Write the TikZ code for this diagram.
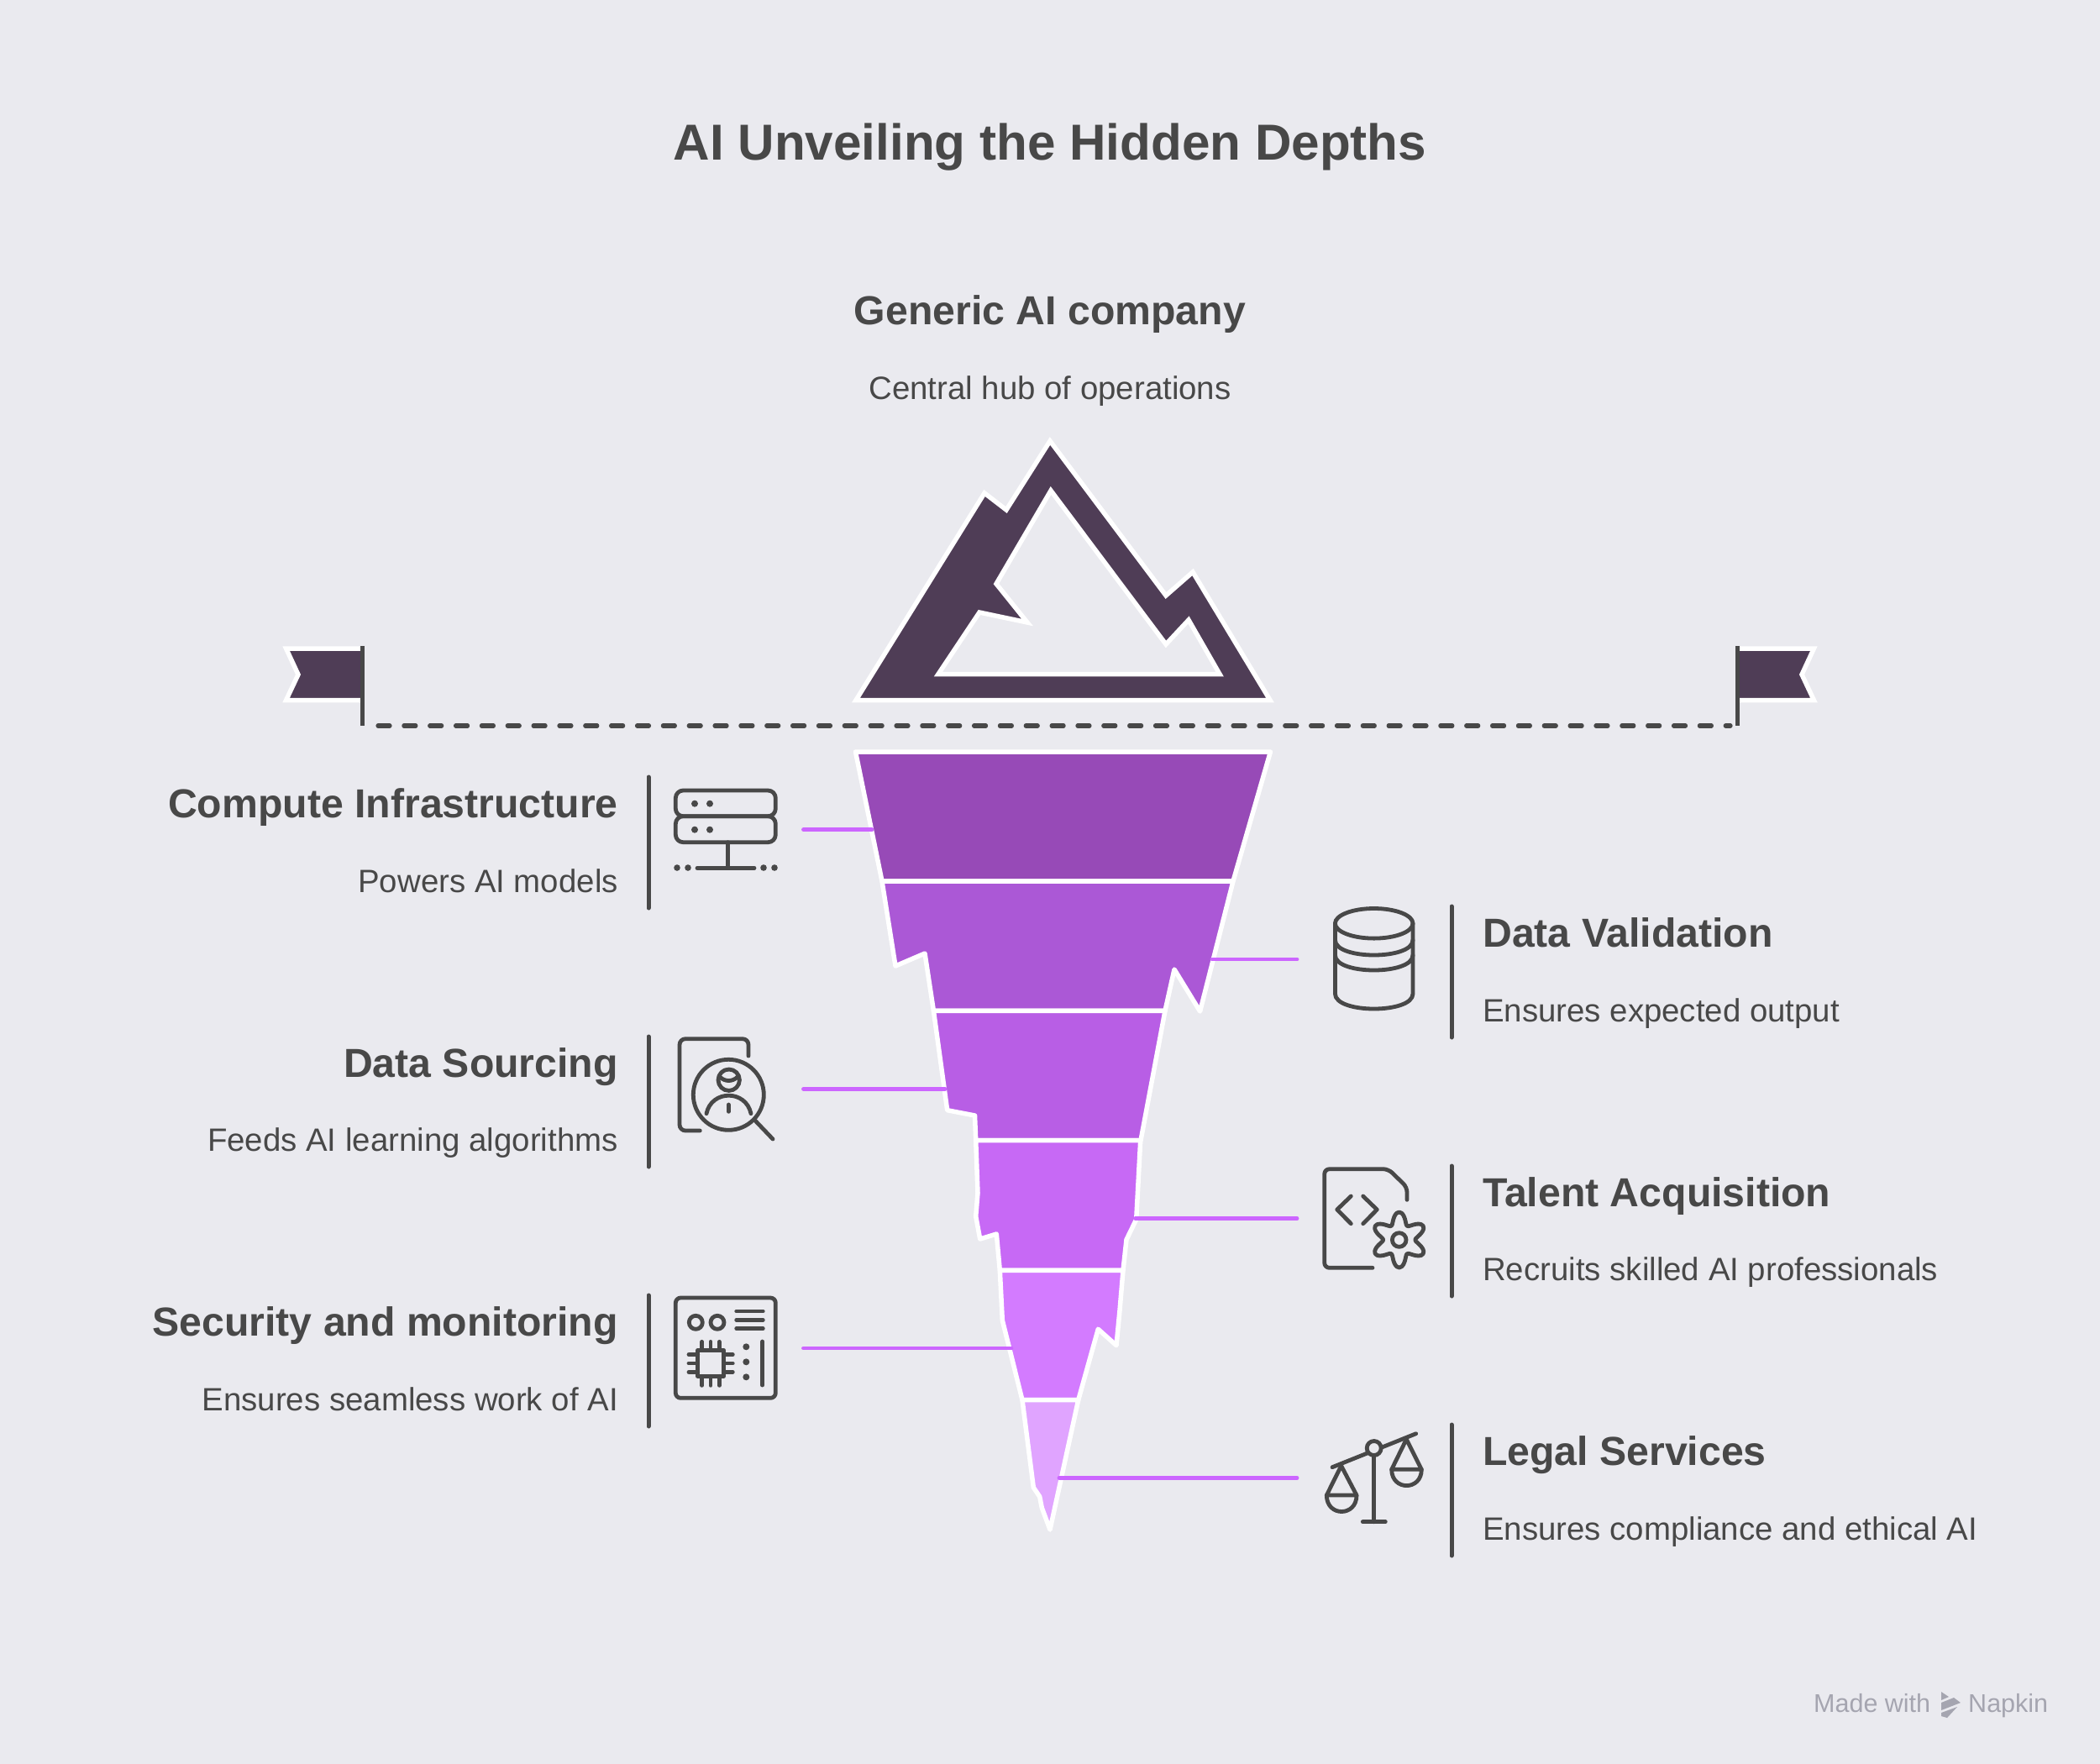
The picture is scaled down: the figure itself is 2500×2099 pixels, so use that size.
\documentclass[tikz,border=0pt]{standalone}
\usepackage{fontspec}
\setmainfont{Liberation Sans}
\usepackage{tikz}
\usetikzlibrary{positioning}

\definecolor{pagebg}{HTML}{EAEAEF}
\definecolor{inkgrey}{HTML}{484848}
\definecolor{bergdark}{HTML}{4F3D56}
\definecolor{bandA}{HTML}{974AB7}
\definecolor{bandB}{HTML}{AB58D6}
\definecolor{bandC}{HTML}{B85EE5}
\definecolor{bandD}{HTML}{C769F5}
\definecolor{bandE}{HTML}{D37BFF}
\definecolor{bandF}{HTML}{E0A4FF}
\definecolor{linkpurple}{HTML}{CC66FF}
\definecolor{markgrey}{HTML}{A5A5B0}

\tikzset{
  headlabel/.style={font=\fontsize{48.2}{48.2}\selectfont\bfseries, text=inkgrey, inner sep=0pt},
  sublabel/.style={font=\fontsize{38.4}{38.4}\selectfont, text=inkgrey, inner sep=0pt},
  band/.style={draw=white, line width=5.5pt, line join=round},
  link/.style={draw=linkpurple, line width=4.8pt, line cap=round},
  sidebar/.style={draw=inkgrey, line width=5pt, line cap=round},
  icon/.style={draw=inkgrey, line width=4.8pt, line cap=round, line join=round},
  icondot/.style={fill=inkgrey}
}

\begin{document}
\begin{tikzpicture}[x=1pt, y=-1pt]
  \useasboundingbox (0,0) rectangle (2500,2099);
  \fill[pagebg] (-5,-5) rectangle (2505,2104);

  % Draw the title and the top labels
  \node[font=\fontsize{60.2}{60.2}\selectfont\bfseries, text=inkgrey, inner sep=0pt, anchor=base] (title) at (1250,190) {AI Unveiling the Hidden Depths};
  \node[headlabel, anchor=base] (topHead) at (1250,386) {Generic AI company};
  \node[sublabel, anchor=base] (topSub) at (1250,475) {Central hub of operations};

  % Draw the mountain
  \draw[band, line join=miter, fill=bergdark, even odd rule]
    (1250,525) -- (1388,709) -- (1420,681) -- (1512,833.5) -- (1019,833.5) -- (1172,587) -- (1198,607) -- cycle
    (1251,584) -- (1186,695) -- (1223,741) -- (1166,729) -- (1117,802.5) -- (1452,802.5) -- (1415,738) -- (1388,767) -- cycle;

  % Draw the flags and the water line
  \draw[band, line join=miter, fill=bergdark] (431,772) -- (340.6,772) -- (355,803) -- (340.6,833.5) -- (431,833.5);
  \draw[band, line join=miter, fill=bergdark] (2068,772) -- (2159.4,772) -- (2145,803) -- (2159.4,833.5) -- (2068,833.5);
  \coordinate (leftPole) at (431,864);
  \coordinate (rightPole) at (2068,864);
  \draw[draw=inkgrey, line width=5pt] (431,769) -- (leftPole);
  \draw[draw=inkgrey, line width=5pt] (2068,769) -- (rightPole);
  \draw[draw=inkgrey, line width=5.2pt, line cap=round, dash pattern=on 14pt off 16.85pt] (450,864) -- (2060,864);

  % Draw the bands of the iceberg
  \draw[band, fill=bandA] (1018.5,895) -- (1512.4,895) -- (1468,1049) -- (1050,1049) -- cycle;
  \draw[band, fill=bandB] (1050,1049) -- (1468,1049) -- (1428.6,1204) -- (1398,1154) -- (1387,1203.3) -- (1111.4,1203.3) -- (1101,1135) -- (1066,1150) -- cycle;
  \draw[band, fill=bandC] (1111.4,1203.3) -- (1387,1203.3) -- (1358,1357.7) -- (1161.7,1357.7) -- (1160.5,1328) -- (1127.7,1321.7) -- cycle;
  \draw[band, fill=bandD] (1161.7,1357.7) -- (1357.7,1357.7) -- (1352.7,1451.7) -- (1341,1475.7) -- (1337,1512.3) -- (1190.3,1512.3) -- (1186.3,1469) -- (1166.7,1475) -- (1161.7,1448) -- (1164,1420) -- cycle;
  \draw[band, fill=bandE] (1190.3,1512.3) -- (1337,1512.3) -- (1333,1560) -- (1329,1601.7) -- (1307.3,1582.3) -- (1283.7,1666.7) -- (1217,1666.7) -- (1193.3,1571.7) -- cycle;
  \draw[band, fill=bandF] (1217,1666.7) -- (1283.7,1666.7) -- (1250,1821) -- (1240.3,1795) -- (1237.7,1781.7) -- (1230.3,1770.7) -- cycle;

  % Define the ends of the links
  \coordinate (infraEnd) at (956.5,987.7);
  \coordinate (infraBand) at (1038,987.7);
  \coordinate (validEnd) at (1544,1142);
  \coordinate (validBand) at (1443,1142);
  \coordinate (sourceEnd) at (956.5,1296.3);
  \coordinate (sourceBand) at (1125,1296.3);
  \coordinate (talentEnd) at (1544,1450.7);
  \coordinate (talentBand) at (1351.7,1450.7);
  \coordinate (securEnd) at (956.5,1605);
  \coordinate (securBand) at (1204,1605);
  \coordinate (legalEnd) at (1544,1759.3);
  \coordinate (legalBand) at (1261,1759.3);

  % Draw the links
  \draw[link] (infraEnd) -- (infraBand);
  \draw[link] (validEnd) -- (validBand);
  \draw[link] (sourceEnd) -- (sourceBand);
  \draw[link] (talentEnd) -- (talentBand);
  \draw[link] (securEnd) -- (securBand);
  \draw[link] (legalEnd) -- (legalBand);

  % Draw the bars next to the labels
  \draw[sidebar] (772,925) -- (772,1081);
  \draw[sidebar] (772,1234) -- (772,1389);
  \draw[sidebar] (772,1542) -- (772,1698);
  \draw[sidebar] (1728,1079) -- (1728,1235);
  \draw[sidebar] (1728,1388) -- (1728,1543);
  \draw[sidebar] (1728,1696) -- (1728,1852);

  % Draw the left labels
  \node[headlabel, anchor=base east] (infraHead) at (736,973) {Compute Infrastructure};
  \node[sublabel, anchor=base east] (infraSub) at (736,1062) {Powers AI models};
  \node[headlabel, anchor=base east] (sourceHead) at (736,1282) {Data Sourcing};
  \node[sublabel, anchor=base east] (sourceSub) at (736,1370.5) {Feeds AI learning algorithms};
  \node[headlabel, anchor=base east] (securHead) at (736,1590) {Security and monitoring};
  \node[sublabel, anchor=base east] (securSub) at (736,1679) {Ensures seamless work of AI};

  % Draw the right labels
  \node[headlabel, anchor=base west] (validHead) at (1765,1127) {Data Validation};
  \node[sublabel, anchor=base west] (validSub) at (1765,1216) {Ensures expected output};
  \node[headlabel, anchor=base west] (talentHead) at (1765,1436) {Talent Acquisition};
  \node[sublabel, anchor=base west] (talentSub) at (1765,1524.5) {Recruits skilled AI professionals};
  \node[headlabel, anchor=base west] (legalHead) at (1765,1744) {Legal Services};
  \node[sublabel, anchor=base west] (legalSub) at (1765,1833) {Ensures compliance and ethical AI};

  % Draw the server icon
  \draw[icon, rounded corners=9pt] (804.3,941) rectangle (923.3,971.7);
  \draw[icon, rounded corners=9pt] (804.3,971.7) rectangle (923.3,1002.7);
  \foreach \dotx in {827,845} {
    \fill[icondot] (\dotx,956.7) circle (4);
    \fill[icondot] (\dotx,987.7) circle (4);
  }
  \draw[icon] (866.7,1002.7) -- (866.7,1033.3);
  \draw[icon] (830,1033.3) -- (898,1033.3);
  \foreach \dotx in {806,819,909,922} {
    \fill[icondot] (\dotx,1033) circle (3.8);
  }

  % Draw the search icon
  \draw[icon, rounded corners=7pt] (833.3,1346) -- (809,1346) -- (809,1236.7) -- (891,1236.7) -- (891,1257);
  \draw[icon] (867.3,1303.3) circle (42);
  \draw[icon] (898.3,1333.3) -- (920,1356);
  \draw[icon] (867.7,1285.7) circle (12.7);
  \draw[icon] (857,1282) .. controls (863,1288) and (872,1288) .. (878,1282);
  \draw[icon] (841,1325.7) .. controls (847,1297) and (888,1297) .. (894,1325.7);
  \draw[icon] (867.3,1315) -- (867.3,1323.3);

  % Draw the board icon
  \draw[icon, rounded corners=6pt] (804.3,1545) rectangle (923.3,1664.3);
  \draw[icon] (828.3,1574.3) circle (8);
  \draw[icon] (854,1574.3) circle (8);
  \foreach \liney in {1561,1571.3,1581.7} {
    \draw[icon] (876.7,\liney) -- (908.3,\liney);
  }
  \draw[icon] (830.7,1607.3) rectangle (861.7,1638.3);
  \foreach \pinx in {835.7,846,856.3} {
    \draw[icon] (\pinx,1597.3) -- (\pinx,1607.3);
    \draw[icon] (\pinx,1638.3) -- (\pinx,1649.3);
  }
  \foreach \piny in {1612.7,1623,1633.3} {
    \draw[icon] (820,\piny) -- (830.7,\piny);
    \draw[icon] (861.7,\piny) -- (872.3,\piny);
  }
  \foreach \doty in {1603.3,1621.3,1639.3} {
    \fill[icondot] (888.3,\doty) circle (4);
  }
  \draw[icon] (907.7,1597) -- (907.7,1649);

  % Draw the database icon
  \draw[icon] (1635.7,1099.3) ellipse [x radius=46.3, y radius=17.8];
  \draw[icon] (1589.4,1099.3) -- (1589.4,1183) .. controls (1589.4,1207) and (1682,1207) .. (1682,1183) -- (1682,1099.3);
  \draw[icon] (1589.4,1119) .. controls (1589.4,1143) and (1682,1143) .. (1682,1119);
  \draw[icon] (1589.4,1137) .. controls (1589.4,1161) and (1682,1161) .. (1682,1137);

  % Draw the code file icon
  \draw[icon, rounded corners=6pt] (1634,1509.3) -- (1576.7,1509.3) -- (1576.7,1391.7) -- (1652.7,1391.7) -- (1675,1413.3) -- (1675,1428.3);
  \draw[icon] (1608.3,1424) -- (1591.7,1440) -- (1608.3,1456.7);
  \draw[icon] (1622.7,1424) -- (1639.3,1440) -- (1622.7,1456.7);
  \draw[icon] plot[smooth cycle, domain=0:355, samples=72] ({1665.7+(26-7*cos(6*\x))*cos(\x)}, {1476+(26-7*cos(6*\x))*sin(\x)});
  \draw[icon] (1665.7,1476) circle (8.3);

  % Draw the scales icon
  \draw[icon] (1586,1746.7) -- (1685.7,1706.7);
  \draw[icon, fill=pagebg] (1635.7,1724) circle (8.5);
  \draw[icon] (1635.7,1733) -- (1635.7,1811.7);
  \draw[icon] (1622.3,1811.7) -- (1649.3,1811.7);
  \draw[icon] (1579.3,1780) -- (1596.7,1745) -- (1615,1780);
  \draw[icon] (1579.3,1780) -- (1615,1780) .. controls (1615,1806) and (1579.3,1806) .. (1579.3,1780);
  \draw[icon] (1656.7,1749.3) -- (1674.3,1713.3) -- (1692.3,1749.3);
  \draw[icon] (1656.7,1749.3) -- (1692.3,1749.3) .. controls (1692.3,1775) and (1656.7,1775) .. (1656.7,1749.3);

  % Draw the footer mark
  \node[font=\fontsize{30.5}{30.5}\selectfont, text=markgrey, inner sep=0pt, anchor=base west] (madeWith) at (2159,2038) {Made with};
  \node[font=\fontsize{30.5}{30.5}\selectfont, text=markgrey, inner sep=0pt, anchor=base west] (napkin) at (2343,2038) {Napkin};
  \fill[markgrey] (2311,2014) -- (2320,2020) -- (2311,2024) -- cycle;
  \fill[markgrey] (2311,2027) -- (2326,2021) -- (2334,2027) -- (2311,2036) -- cycle;
  \fill[markgrey] (2311,2039) -- (2330,2032) -- (2318,2045) -- (2311,2043) -- cycle;
\end{tikzpicture}
\end{document}
